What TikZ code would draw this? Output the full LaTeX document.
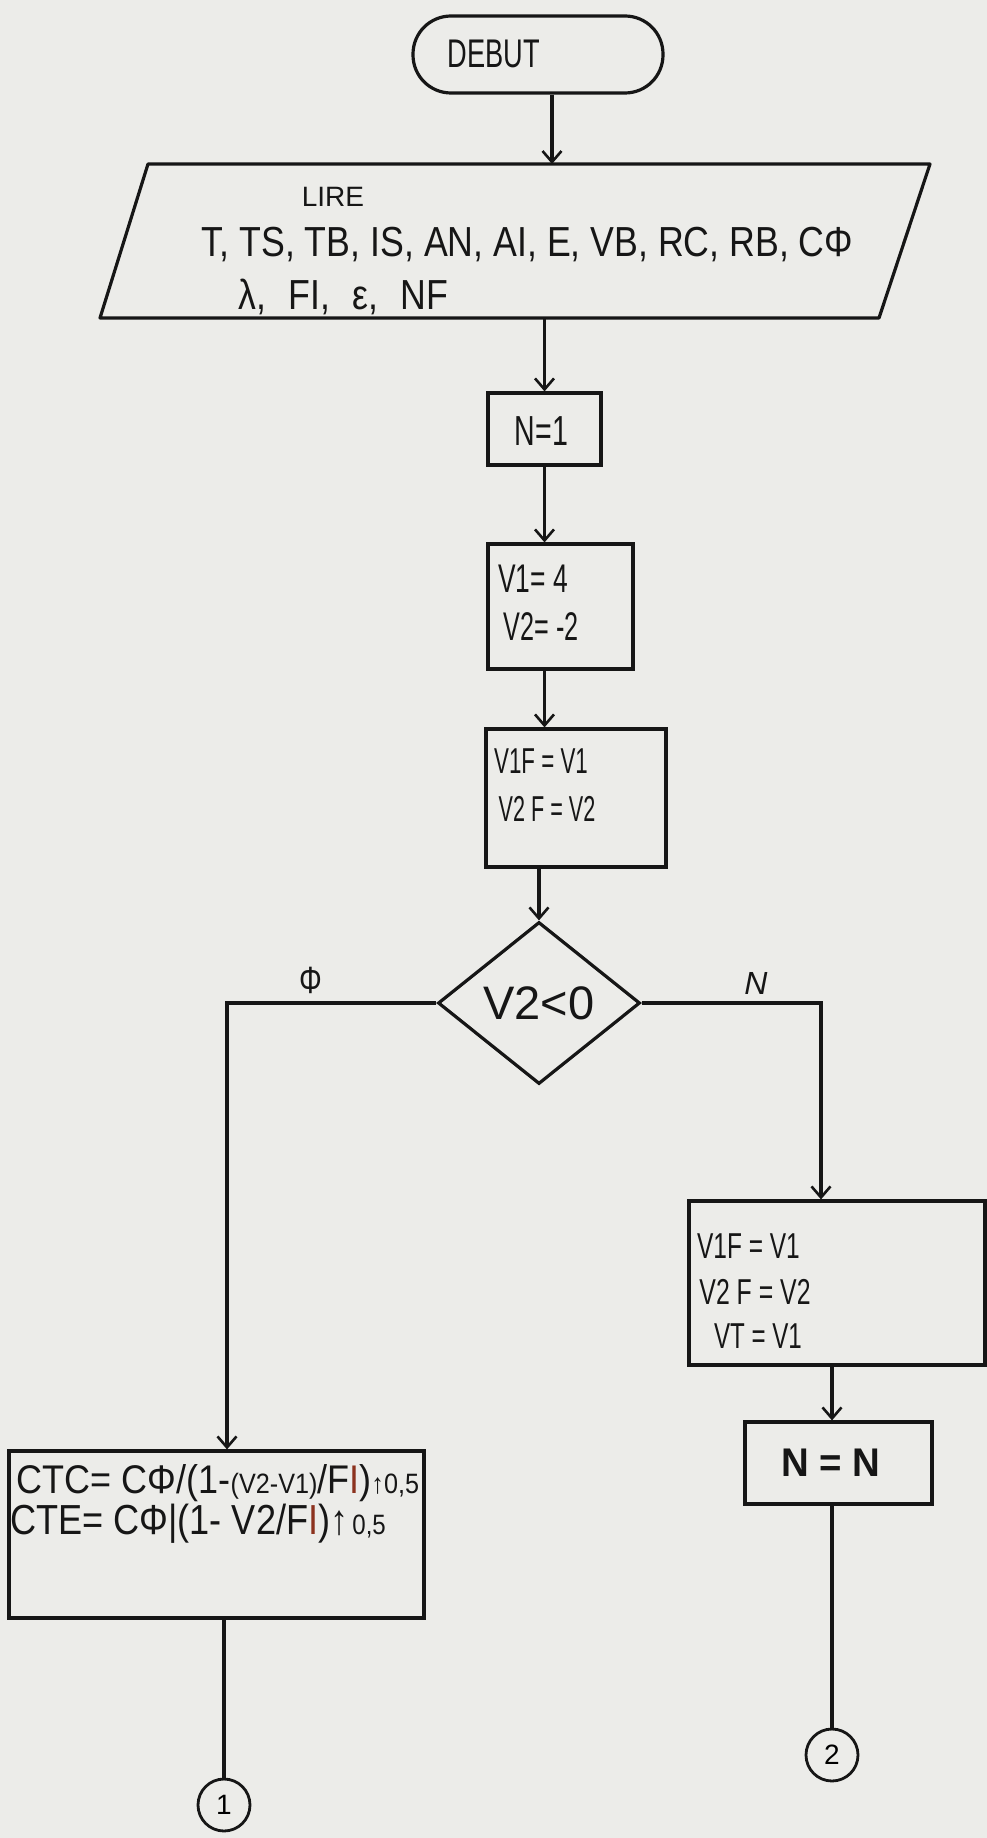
\documentclass[tikz,border=0pt]{standalone}
\usepackage{fontspec}
\setmainfont{Liberation Sans}
\usetikzlibrary{arrows.meta,shapes.geometric}
\definecolor{paper}{RGB}{236,236,233}
\definecolor{ink}{RGB}{22,22,22}
\definecolor{redink}{RGB}{140,50,30}
\begin{document}
\begin{tikzpicture}[x=1pt,y=-1pt,
  line/.style={draw=ink, line width=3.2pt},
  arr/.style={line, -{Straight Barb[length=11pt,width=19pt,line width=2.6pt]}},
  procbox/.style={draw=ink, line width=3.2pt, rectangle, inner sep=0pt},
  txt/.style={text=ink, inner sep=0pt, anchor=center},
  fs/.style={font=\fontsize{#1}{#1}\selectfont}
]
\fill[paper] (0,0) rectangle (987,1838);
\useasboundingbox (0,0) rectangle (987,1838);

% start
\node[procbox, rounded corners=38pt, minimum width=250pt, minimum height=77pt] (debut) at (538,54.5) {};
\node[txt, fs=40, xscale=0.68] (debutT) at (494,54) {DEBUT};

% input parallelogram
\draw[line, line join=round] (148,164) -- (930,164) -- (879,318) -- (100,318) -- cycle;
\coordinate (lireTop) at (552,164);
\coordinate (lireBot) at (544.5,318);
\node[txt, fs=28] (lireT) at (333,197) {LIRE};
\node[txt, fs=42, xscale=0.85] (lireL2) at (527.5,245) {T, TS, TB, IS, AN, AI, E, VB, RC, RB, CΦ};
\node[txt, fs=42, xscale=0.85] (lireL3) at (343.5,297) {λ,\hspace{26pt}FI,\hspace{26pt}ε,\hspace{26pt}NF};

% N=1
\node[procbox, minimum width=113pt, minimum height=72pt] (n1) at (544.5,429) {};
\node[txt, fs=42, xscale=0.68] (n1T) at (541.5,431) {N=1};

% V1 V2
\node[procbox, minimum width=145pt, minimum height=125pt] (v1box) at (560.5,606.5) {};
\node[txt, fs=40, xscale=0.66] (v1a) at (533,579) {V1= 4};
\node[txt, fs=40, xscale=0.63] (v1b) at (541,627) {V2= -2};

% V1F V2F
\node[procbox, minimum width=180pt, minimum height=138pt] (vfbox) at (576,798) {};
\node[txt, fs=36, xscale=0.62] (vfa) at (541,761) {V1F = V1};
\node[txt, fs=36, xscale=0.6] (vfb) at (547,809) {V2 F = V2};

% decision
\node[diamond, draw=ink, line width=3.2pt, minimum width=202pt, minimum height=162pt, inner sep=0pt] (dec) at (539,1003) {};
\node[txt, fs=47] (decT) at (539,1003) {V2<0};

% left branch box
\node[procbox, minimum width=415pt, minimum height=167pt] (ctc) at (216.5,1534.5) {};
\node[txt, fs=40, xscale=0.9] (ctcA) at (218,1483) {CTC= CΦ/(1-{\fontsize{28}{28}\selectfont(V2-V1)}/F\textcolor{redink}{I}){\fontsize{28}{28}\selectfont↑0,5}};
\node[txt, fs=42, xscale=0.86] (ctcB) at (198,1524) {CTE= CΦ|(1- V2/F\textcolor{redink}{I})↑{\fontsize{28}{28}\selectfont\,0,5}};

% right branch boxes
\node[procbox, minimum width=296pt, minimum height=164pt] (rbox) at (837,1283) {};
\node[txt, fs=36, xscale=0.68] (ra) at (748.5,1246) {V1F = V1};
\node[txt, fs=36, xscale=0.69] (rb) at (755,1292) {V2 F = V2};
\node[txt, fs=36, xscale=0.67] (rc) at (758,1336) {VT = V1};

\node[procbox, minimum width=187pt, minimum height=82pt] (nn) at (838.5,1463) {};
\node[txt, font=\fontsize{40}{40}\selectfont\bfseries, xscale=0.96] (nnT) at (831,1463) {N = N};

% connectors
\node[draw=ink, circle, line width=2.8pt, minimum size=52pt, inner sep=0pt, fs=28] (c1) at (224,1805) {1};
\node[draw=ink, circle, line width=2.8pt, minimum size=52pt, inner sep=0pt, fs=28] (c2) at (832,1755) {2};

% branch labels
\node[txt, fs=38, xscale=0.75] (lblO) at (311,980) {Φ};
\node[txt, fs=32] (lblN) at (756,983) {\itshape N};

% corner points
\coordinate (lcorner) at (227,1003);
\coordinate (rcorner) at (821,1003);

% flow lines
\draw[arr] (lireTop |- debut.south) -- (lireTop);
\draw[arr] (n1.north |- lireBot) -- (n1.north);
\draw[arr] (n1.south) -- (n1.south |- v1box.north);
\draw[arr] (v1box.south -| n1.south) -- (n1.south |- vfbox.north);
\draw[arr] (vfbox.south -| dec.north) -- (dec.north);
\draw[arr] (dec.west) -- (lcorner) -- (lcorner |- ctc.north);
\draw[arr] (dec.east) -- (rcorner) -- (rcorner |- rbox.north);
\draw[arr] (c2.north |- rbox.south) -- (c2.north |- nn.north);
\draw[line] (c1.north |- ctc.south) -- (c1.north);
\draw[line] (c2.north |- nn.south) -- (c2.north);
\end{tikzpicture}
\end{document}
